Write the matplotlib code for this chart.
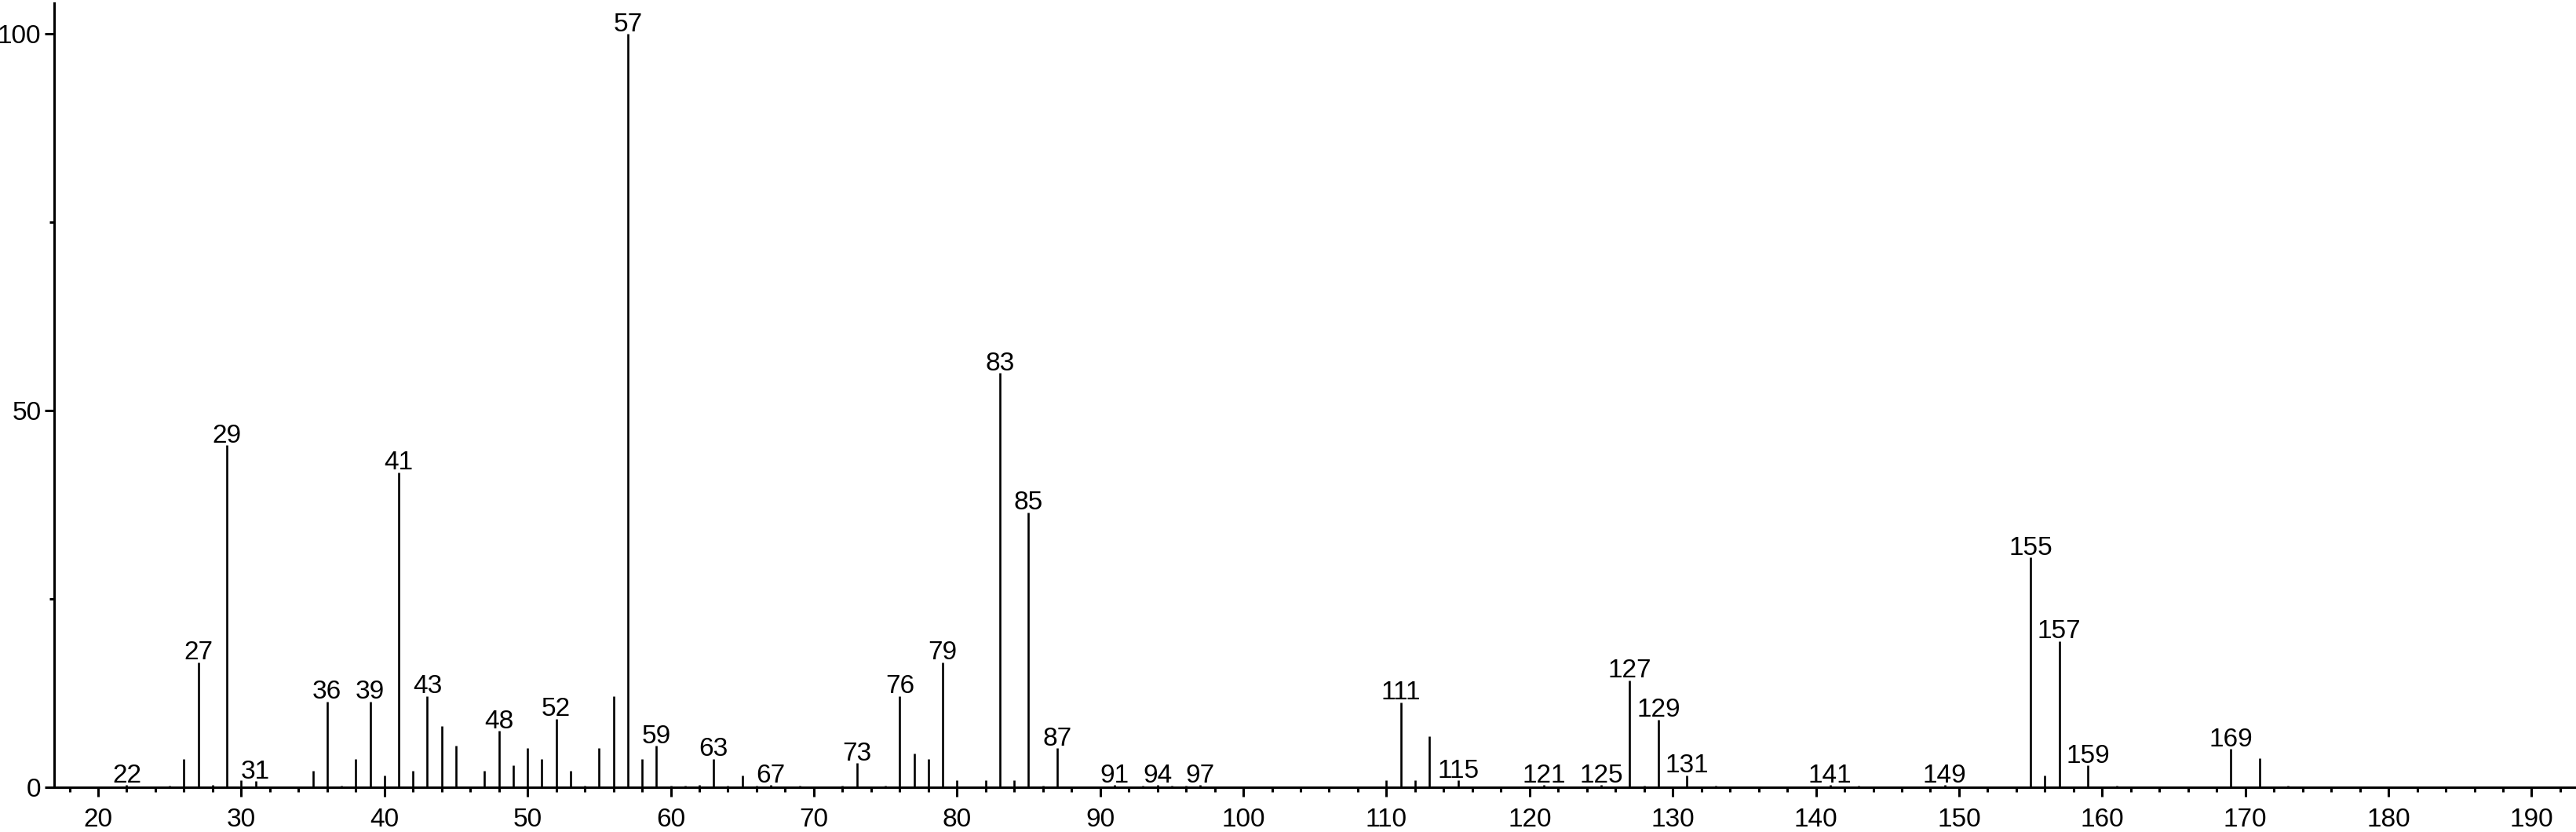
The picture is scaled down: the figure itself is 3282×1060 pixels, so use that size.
import matplotlib
matplotlib.use('Agg')
import matplotlib.pyplot as plt
from matplotlib.ticker import MultipleLocator

# m/z values and relative intensities
mz = [22, 25, 26, 27, 28, 29, 30, 31, 35, 36, 37, 38, 39, 40, 41, 42, 43, 44, 45,
      47, 48, 49, 50, 51, 52, 53, 54, 55, 56, 57, 58, 59, 60, 61, 62, 63, 64, 65,
      66, 67, 69, 72, 73, 75, 76, 77, 78, 79, 80, 82, 83, 84, 85, 86, 87, 91, 93,
      94, 95, 96, 97, 110, 111, 112, 113, 115, 121, 125, 127, 128, 129, 131, 133,
      141, 143, 149, 155, 156, 157, 159, 161, 169, 171, 173]
intensity = [0.3, 0.2, 3.8, 16.6, 0.3, 45.4, 0.9, 0.8, 2.2, 11.4, 0.2, 3.8, 11.4,
             1.6, 41.8, 2.2, 12.1, 8.1, 5.5, 2.2, 7.5, 2.9, 5.2, 3.8, 9.1, 2.2,
             0.2, 5.2, 12.1, 100.0, 3.8, 5.5, 0.2, 0.2, 0.3, 3.8, 0.2, 1.6, 0.2,
             0.3, 0.2, 0.2, 3.2, 0.2, 12.1, 4.5, 3.8, 16.6, 0.9, 0.9, 55.0, 0.9,
             36.5, 0.2, 5.2, 0.3, 0.2, 0.3, 0.2, 0.2, 0.3, 0.9, 11.3, 0.9, 6.8,
             0.9, 0.3, 0.3, 14.2, 0.2, 9.0, 1.6, 0.2, 0.3, 0.2, 0.3, 30.5, 1.6,
             19.4, 2.9, 0.2, 5.1, 3.9, 0.2]
labeled = [22, 27, 29, 31, 36, 39, 41, 43, 48, 52, 57, 59, 63, 67, 73, 76, 79, 83,
           85, 87, 91, 94, 97, 111, 115, 121, 125, 127, 129, 131, 141, 149, 155,
           157, 159, 169]

plt.rcParams['font.family'] = ['Liberation Sans', 'DejaVu Sans']

W, H = 3282, 1060
fig = plt.figure(figsize=(W / 100, H / 100), dpi=100)
ax = fig.add_axes([69 / W, 57 / H, 1 - 69 / W, (1003 - 4) / H])

ax.vlines(mz, 0, intensity, color='black', linewidth=1.9)

heights = dict(zip(mz, intensity))
for m in labeled:
    ax.annotate(str(m), (m, heights[m]), xytext=(0, 2.5), textcoords='offset points',
                ha='center', va='baseline', fontsize=24)

ax.set_xlim(16.93, 193.1)
ax.set_ylim(0, 104.1)

for s in ['top', 'right']:
    ax.spines[s].set_visible(False)
for s in ['left', 'bottom']:
    ax.spines[s].set_linewidth(2.2)

ax.xaxis.set_major_locator(MultipleLocator(10))
ax.xaxis.set_minor_locator(MultipleLocator(2))
ax.yaxis.set_major_locator(MultipleLocator(50))
ax.yaxis.set_minor_locator(MultipleLocator(25))

ax.tick_params(axis='both', which='major', length=8.5, width=2.2, labelsize=24)
ax.tick_params(axis='x', which='major', pad=10)
ax.tick_params(axis='y', which='major', pad=3.5)
ax.tick_params(axis='both', which='minor', length=4.5, width=2.2)

fig.savefig('out.png', dpi=100)
